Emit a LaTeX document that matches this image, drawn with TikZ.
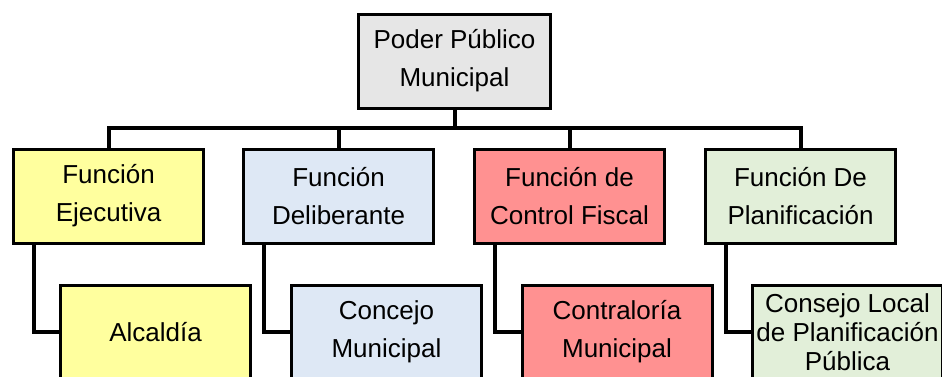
\documentclass[tikz,border=0pt]{standalone}
\usepackage{fontspec}
\setmainfont{Liberation Sans}
\definecolor{cgray}{HTML}{E6E6E6}
\definecolor{cyellow}{HTML}{FFFF9E}
\definecolor{cblue}{HTML}{DEE8F5}
\definecolor{cred}{HTML}{FF9191}
\definecolor{cgreen}{HTML}{E2EFD9}
\begin{document}
\begin{tikzpicture}[x=1pt,y=-1pt,
  box/.style={draw=black,line width=3pt,minimum width=190pt,minimum height=94pt,
    inner sep=0pt,outer sep=0pt,align=center,font=\fontsize{26}{38}\selectfont},
  conn/.style={draw=black,line width=4pt}]
\clip (0,0) rectangle (942,376);
\fill[white] (0,0) rectangle (942,376);
\node[box,fill=cgray,minimum width=192pt] (top) at (454.5,61) {Poder Público\\Municipal};
\node[box,fill=cyellow] (f1) at (108.5,196) {Función\\Ejecutiva};
\node[box,fill=cblue] (f2) at (338.5,196) {Función\\Deliberante};
\node[box,fill=cred] (f3) at (569.5,196) {Función de\\Control Fiscal};
\node[box,fill=cgreen] (f4) at (800.5,196) {Función De\\Planificación};
\node[box,fill=cyellow] (a1) at (155.5,332) {Alcaldía};
\node[box,fill=cblue] (a2) at (386.5,332) {Concejo\\Municipal};
\node[box,fill=cred] (a3) at (617,332) {Contraloría\\Municipal};
\node[box,fill=cgreen,font=\fontsize{26}{29}\selectfont] (a4) at (847.5,332) {Consejo Local\\de Planificación\\Pública};
\coordinate (bj) at (454.5,128);
\draw[conn] (top.south) -- (bj);
\draw[conn] (f1.north) |- (bj) -| (f4.north);
\draw[conn] (f2.north) -- (f2.north |- bj);
\draw[conn] (f3.north) -- (f3.north |- bj);
\draw[conn] ([xshift=20pt]f1.south west) |- (a1.west);
\draw[conn] ([xshift=20pt]f2.south west) |- (a2.west);
\draw[conn] ([xshift=20pt]f3.south west) |- (a3.west);
\draw[conn] ([xshift=20pt]f4.south west) |- (a4.west);
\end{tikzpicture}
\end{document}
